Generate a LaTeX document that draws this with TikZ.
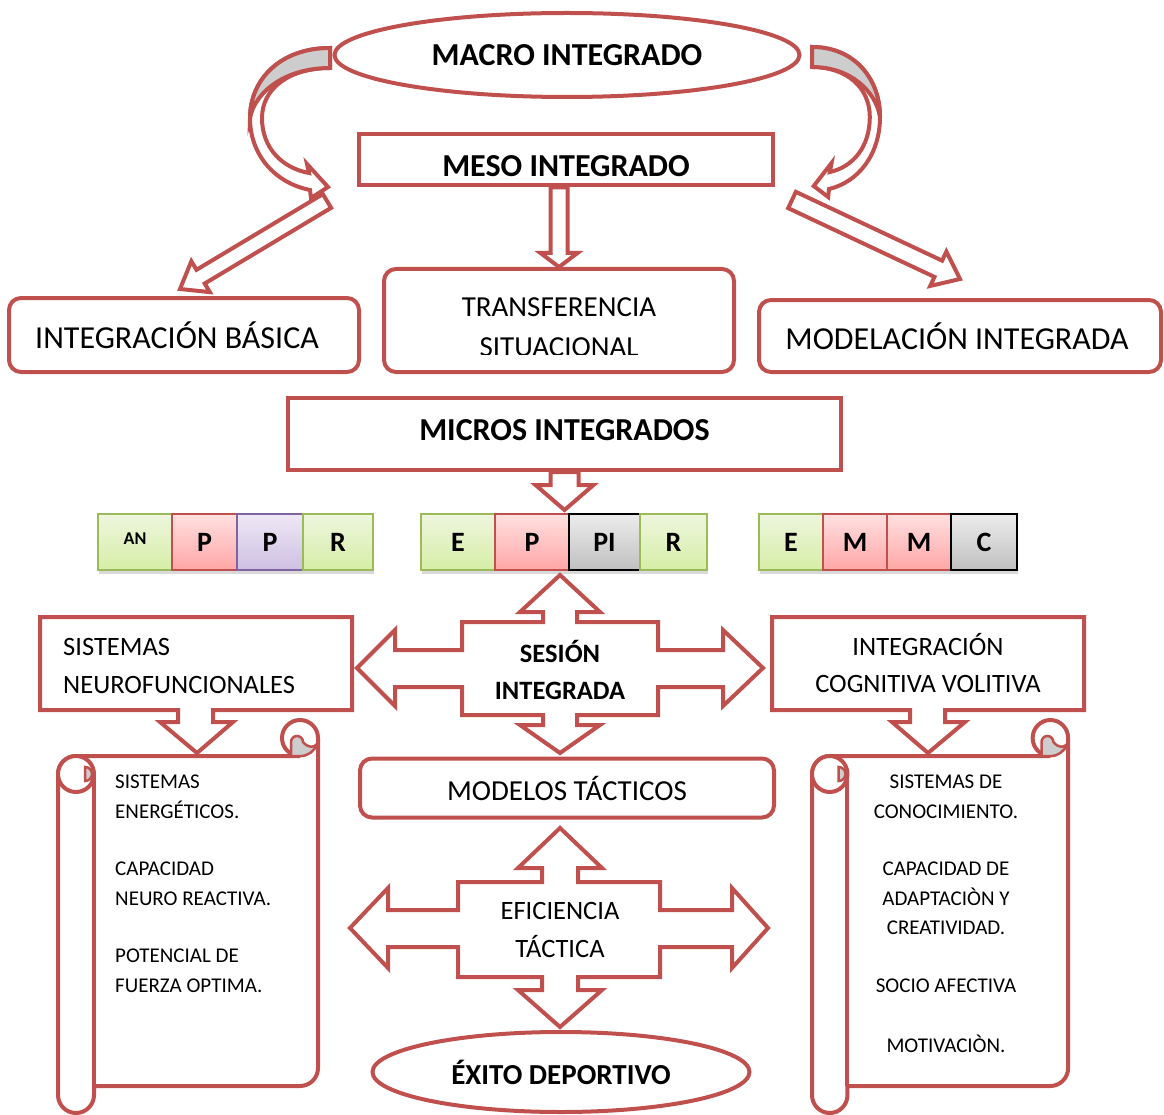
\documentclass[tikz,border=0pt]{standalone}
\usepackage{fontspec}
\setmainfont{Carlito}
\usetikzlibrary{shapes.geometric,shadows,calc,positioning}
\definecolor{rojo}{RGB}{192,80,77}
\definecolor{rollgray}{RGB}{205,205,205}
\definecolor{gline}{RGB}{155,187,89}
\definecolor{gtop}{RGB}{238,246,222}
\definecolor{gbot}{RGB}{214,238,166}
\definecolor{rline}{RGB}{192,80,77}
\definecolor{rtop}{RGB}{255,224,224}
\definecolor{rbot}{RGB}{255,166,166}
\definecolor{pline}{RGB}{128,100,162}
\definecolor{ptop}{RGB}{238,232,246}
\definecolor{pbot}{RGB}{206,192,226}
\definecolor{kline}{RGB}{0,0,0}
\definecolor{ktop}{RGB}{236,236,236}
\definecolor{kbot}{RGB}{192,192,192}
\newcommand\bigfont{\fontsize{32}{38}\selectfont}
\newcommand\midfont{\fontsize{29}{40}\selectfont}
\newcommand\callfont{\fontsize{26.5}{37.5}\selectfont}
\newcommand\scrollfont{\fontsize{21}{29.5}\selectfont}
\newcommand\cellfont{\fontsize{28}{32}\selectfont\bfseries}
% block arrow: [opts]{from}{to}{shaft half width}{head half width}{head length}
\newcommand\blockarrow[6][]{%
  \coordinate (ba-c) at ($(#3)!#6pt!(#2)$);
  \draw[blk,#1] ($(#2)!#4pt!-90:(#3)$) -- ($(ba-c)!#4pt!-90:(#3)$) -- ($(ba-c)!#5pt!-90:(#3)$)
    -- (#3) -- ($(ba-c)!#5pt!90:(#3)$) -- ($(ba-c)!#4pt!90:(#3)$) -- ($(#2)!#4pt!90:(#3)$) -- cycle;
}
\tikzset{
  blk/.style={draw=rojo,line width=4pt,fill=white},
  panel/.style={draw=rojo,line width=4pt,fill=white,inner sep=0pt,align=center},
  rpanel/.style={panel,rounded corners=12pt},
  oval/.style={ellipse,draw=rojo,line width=4pt,fill=white,inner sep=0pt,font=\bigfont\bfseries},
  tag/.style={inner sep=0pt},
  cell/.style={draw=#1line,top color=#1top,bottom color=#1bot,line width=1.5pt,
    minimum height=56pt,inner sep=0pt,font=\cellfont,
    drop shadow={opacity=0.3,shadow xshift=1pt,shadow yshift=-4pt}},
  cell/.default=g,
  % curved arrow leaving the top oval
  pics/bentarrow/.style={code={
    \draw[blk] (0,0) .. controls (-50,0) and (-80,32) .. (-80,70)
      .. controls (-80,107) and (-55,135) .. (-20,142) -- (-19,150) -- (-2,139) -- (-23,116) -- (-21,125)
      .. controls (-48,120) and (-68,100) .. (-68,70)
      .. controls (-68,40) and (-40,20) .. (0,20) -- cycle;
    \draw[blk,fill=rollgray] (0,0) .. controls (-50,0) and (-80,32) .. (-80,70)
      .. controls (-75,44) and (-45,20) .. (0,20) -- cycle;
  }},
  % vertical scroll
  pics/scroll/.style={code={
    \draw[blk] (36,366) -- (242,366) arc[start angle=90,end angle=0,radius=18] -- (260,18)
      arc[start angle=0,end angle=-270,radius=18] -- (18,36)
      arc[start angle=-90,end angle=-180,radius=18] -- (0,375)
      arc[start angle=180,end angle=0,radius=18] -- cycle;
    \draw[blk] (18,54) circle[radius=18];
    \draw[rojo,line width=4pt] (36,54) -- (36,366);
    \filldraw[fill=rollgray,draw=rojo,line width=2.5pt] (27,47) arc[start angle=-90,end angle=90,radius=7] -- cycle;
    \filldraw[fill=rollgray,draw=rojo,line width=2.5pt] (233,36) -- (233,22) arc[start angle=180,end angle=360,radius=6]
      .. controls (250,28) and (256,28) .. (259,24) arc[start angle=19,end angle=90,radius=18] -- cycle;
  }},
}
\begin{document}
\begin{tikzpicture}[x=1pt,y=-1pt]
  \useasboundingbox (0,0) rectangle (1164,1115);

  % top
  \node[oval,minimum width=465pt,minimum height=84pt] (macro) at (567,55) {MACRO INTEGRADO};
  \pic at (330,48) {bentarrow};
  \pic[xscale=-0.85] at (812,47) {bentarrow};
  \node[panel,minimum width=414pt,minimum height=51pt,font=\bigfont\bfseries,text height=34pt] (meso) at (566,160) {MESO INTEGRADO};

  \node[rpanel,minimum width=350pt,minimum height=74pt,font=\bigfont] (basica) at (184,335) {\hspace*{-14pt}INTEGRACIÓN BÁSICA};
  \node[rpanel,minimum width=350pt,minimum height=103pt] (transf) at (559,320.5) {};
  \begin{scope}
    \clip (383,268) rectangle (735,354);
    \node[tag,align=center,font=\midfont] (transftxt) at (559,327) {TRANSFERENCIA\\SITUACIONAL};
  \end{scope}
  \node[rpanel,minimum width=402pt,minimum height=72pt,font=\bigfont] (modelacion) at (960,336) {\hspace*{-6pt}MODELACIÓN INTEGRADA};

  \coordinate (d1s) at (327,201);
  \coordinate (d1e) at (180,289);
  \blockarrow{d1s}{d1e}{8}{18}{24}
  \coordinate (d2s) at (792,200);
  \coordinate (d2e) at (960,279);
  \blockarrow{d2s}{d2e}{9}{19}{24}
  \coordinate (m1) at (meso.south -| transf.north);
  \blockarrow{m1}{transf.north}{8.5}{18.5}{14}

  % micros
  \node[panel,minimum width=553pt,minimum height=72pt,font=\bigfont\bfseries,text depth=8pt] (micros) at (564.5,434) {MICROS INTEGRADOS};
  \coordinate (mtip) at ($(micros.south)+(0,38)$);
  \blockarrow{micros.south}{mtip}{14}{29}{25}

  \foreach \n/\x/\w/\c/\t in {a1/135/74/g/{\fontsize{18}{20}\selectfont\raisebox{7pt}{AN}},a2/204.5/65/r/P,a3/270/66/p/P,a4/338/70/g/R,
      b1/458/74/g/E,b2/532/74/r/P,b3/604.5/71/k/PI,b4/673.5/67/g/R,
      c1/791/64/g/E,c2/855/64/r/M,c3/919/64/r/M,c4/984/66/k/C}
    \node[cell=\c,minimum width=\w pt] (\n) at (\x,542) {\t};

  % sesion integrada
  \coordinate (c1) at (560,668);
  \draw[blk,shift={(c1)}] (0,-93) -- (40,-56) -- (17,-56) -- (17,-46) -- (98,-46) -- (98,-18) -- (163,-18) -- (163,-38)
    -- (203,0) -- (163,38) -- (163,19) -- (98,19) -- (98,47) -- (17,47) -- (17,57) -- (40,57) -- (0,85) -- (-40,57)
    -- (-17,57) -- (-17,47) -- (-98,47) -- (-98,19) -- (-165,19) -- (-165,38) -- (-203,0) -- (-165,-38) -- (-165,-18)
    -- (-98,-18) -- (-98,-46) -- (-17,-46) -- (-17,-56) -- (-40,-56) -- cycle;
  \node[tag,align=center,font=\callfont\bfseries] (ses) at (560,670) {SESIÓN\\INTEGRADA};

  \draw[blk] (40,617) -- (352,617) -- (352,710) -- (213,710) -- (213,722) -- (233,722) -- (197,753) -- (160,722)
    -- (178,722) -- (178,710) -- (40,710) -- cycle;
  \node[tag,anchor=west,align=left,font=\callfont] (neuro) at (63,666) {SISTEMAS\\NEUROFUNCIONALES};
  \draw[blk] (772,617) -- (1084,617) -- (1084,710) -- (945,710) -- (945,722) -- (965,722) -- (928,753) -- (892,722)
    -- (910,722) -- (910,710) -- (772,710) -- cycle;
  \node[tag,align=center,font=\callfont] (cogn) at (928,663) {INTEGRACIÓN\\COGNITIVA VOLITIVA};

  % scrolls
  \pic at (58,720) {scroll};
  \pic[xscale=0.985] at (812,720) {scroll};
  \node[tag,anchor=north west,align=left,font=\scrollfont] (sl) at (115,775)
    {SISTEMAS\\ENERGÉTICOS.\\[28pt]CAPACIDAD\\NEURO REACTIVA.\\[28pt]POTENCIAL DE\\FUERZA OPTIMA.};
  \node[tag,anchor=north,align=center,font=\scrollfont] (sr) at (946,775)
    {SISTEMAS DE\\CONOCIMIENTO.\\[28pt]CAPACIDAD DE\\ADAPTACIÒN Y\\CREATIVIDAD.\\[28pt]SOCIO AFECTIVA\\[31pt]MOTIVACIÒN.};

  % bottom
  \node[rpanel,minimum width=414pt,minimum height=59pt,font=\midfont] (modelos) at (567,788) {MODELOS TÁCTICOS};
  \coordinate (c2) at (560,928);
  \draw[blk,shift={(c2)}] (0,-100) -- (42,-60) -- (18,-60) -- (18,-46) -- (100,-46) -- (100,-18) -- (172,-18) -- (172,-40)
    -- (208,0) -- (172,40) -- (172,19) -- (100,19) -- (100,49) -- (18,49) -- (18,62) -- (42,62) -- (0,99) -- (-42,62)
    -- (-18,62) -- (-18,49) -- (-102,49) -- (-102,19) -- (-172,19) -- (-172,40) -- (-210,0) -- (-172,-40) -- (-172,-18)
    -- (-102,-18) -- (-102,-46) -- (-18,-46) -- (-18,-60) -- (-42,-60) -- cycle;
  \node[tag,align=center,font=\callfont] (efi) at (560,930) {EFICIENCIA\\TÁCTICA};
  \node[oval,minimum width=377pt,minimum height=80pt,font=\midfont\bfseries] (exito) at (561,1072) {ÉXITO DEPORTIVO};
\end{tikzpicture}
\end{document}
